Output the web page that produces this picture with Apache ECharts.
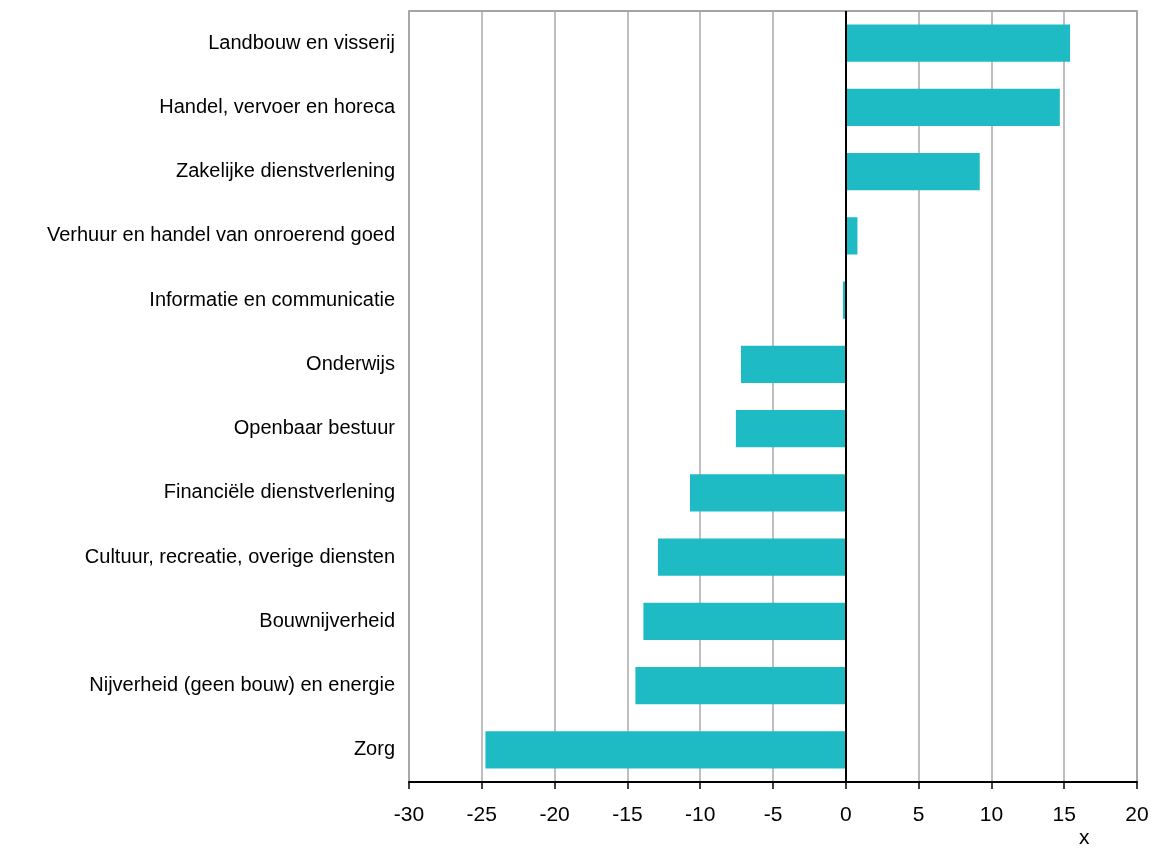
<!DOCTYPE html>
<html>
<head>
<meta charset="utf-8">
<script src="https://cdn.jsdelivr.net/npm/echarts@6/dist/echarts.min.js"></script>
<style>html,body{margin:0;padding:0;background:#fff;}#c{width:1168px;height:848px;}</style>
</head>
<body>
<div id="c"></div>
<script>
var categories = [
  "Landbouw en visserij",
  "Handel, vervoer en horeca",
  "Zakelijke dienstverlening",
  "Verhuur en handel van onroerend goed",
  "Informatie en communicatie",
  "Onderwijs",
  "Openbaar bestuur",
  "Financiële dienstverlening",
  "Cultuur, recreatie, overige diensten",
  "Bouwnijverheid",
  "Nijverheid (geen bouw) en energie",
  "Zorg"
];
var values = [15.4, 14.7, 9.2, 0.8, -0.2, -7.2, -7.55, -10.7, -12.9, -13.9, -14.45, -24.75];
var axisName = "x";

var chart = echarts.init(document.getElementById('c'));
chart.setOption({
  animation: false,
  grid: {left: 409, right: 31, top: 11, bottom: 66, show: true, borderColor: '#888', borderWidth: 1.5, backgroundColor: 'transparent'},
  xAxis: {
    type: 'value', min: -30, max: 20, interval: 5,
    axisLine: {show: true, lineStyle: {color: '#000', width: 2}},
    axisTick: {show: true, length: 7, lineStyle: {color: '#000', width: 1.5}},
    axisLabel: {color: '#000', fontSize: 21, fontFamily: 'Liberation Sans, Arial, sans-serif', margin: 23},
    splitLine: {show: true, lineStyle: {color: '#aaa', width: 1.5}}
  },
  yAxis: {
    type: 'category', inverse: true, data: categories,
    axisLine: {show: false, onZero: false},
    axisTick: {show: false},
    axisLabel: {color: '#000', fontSize: 20, fontFamily: 'Liberation Sans, Arial, sans-serif', margin: 14},
    splitLine: {show: false}
  },
  graphic: [{
    type: 'text', left: 1079, top: 828,
    style: {text: axisName, fill: '#000', font: '21px "Liberation Sans", Arial, sans-serif'}
  }],
  series: [{
    type: 'bar', data: values, barCategoryGap: '42%',
    itemStyle: {color: '#1EBBC5'},
    markLine: {
      silent: true, symbol: 'none', label: {show: false},
      lineStyle: {color: '#000', width: 2, type: 'solid'},
      data: [{xAxis: 0}]
    }
  }]
});
</script>
</body>
</html>
